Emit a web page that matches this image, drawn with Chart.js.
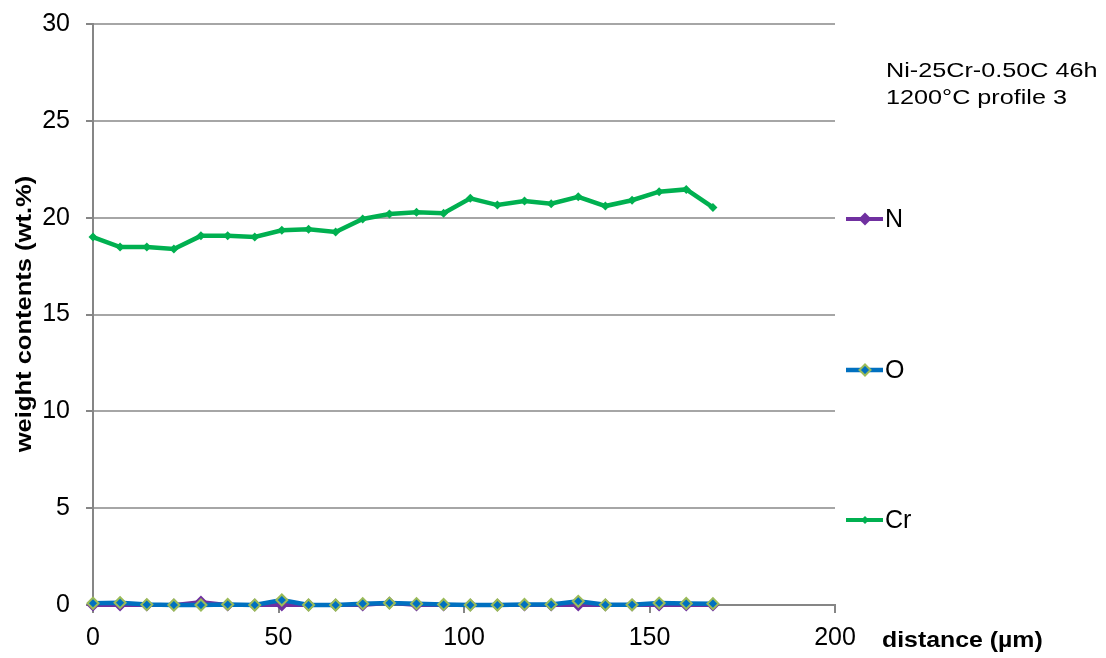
<!DOCTYPE html>
<html>
<head>
<meta charset="utf-8">
<script src="https://cdn.jsdelivr.net/npm/chart.js@4.4.1/dist/chart.umd.min.js"></script>
<style>
  html, body { margin: 0; padding: 0; background: #fff; }
  #wrap { width: 1106px; height: 658px; position: relative; }
</style>
</head>
<body>
<div id="wrap"><canvas id="c" width="1106" height="658"></canvas></div>
<script>
// ---- data ----
const distance = [0, 7.3, 14.5, 21.8, 29.1, 36.3, 43.6, 50.9, 58.1, 65.4, 72.7, 79.9,
                  87.2, 94.5, 101.7, 109.0, 116.3, 123.5, 130.8, 138.1, 145.3, 152.6, 159.9, 167.1];
const nValues  = [0, 0, 0, 0, 0.15, 0, 0, 0, 0, 0, 0, 0.1,
                  0, 0, 0, 0, 0, 0, 0, 0, 0, 0, 0, 0];
const oValues  = [0.09, 0.12, 0.02, 0, 0, 0.03, 0, 0.26, 0, 0, 0.07, 0.1,
                  0.07, 0.03, 0, 0, 0.03, 0.03, 0.19, 0.01, 0.01, 0.1, 0.08, 0.07];
const crValues = [19.0, 18.48, 18.48, 18.38, 19.06, 19.06, 19.0, 19.35, 19.4, 19.26, 19.93, 20.19,
                  20.28, 20.23, 21.0, 20.65, 20.86, 20.72, 21.08, 20.6, 20.9, 21.34, 21.46, 20.53];
const seriesNames = ['N', 'O', 'Cr'];
const xTicks = [0, 50, 100, 150, 200];
const yTicks = [0, 5, 10, 15, 20, 25, 30];
const titleLines = ['Ni-25Cr-0.50C 46h', '1200°C profile 3'];
const xTitle = 'distance (µm)';
const yTitle = 'weight contents (wt.%)';

const toPts = (vals) => vals.map((v, i) => ({ x: distance[i], y: v }));

const PURPLE = '#7030A0', BLUE = '#0070C0', OBORDER = '#9BBB59', GREEN = '#00B050';
const FONT = "'Liberation Sans', Arial, sans-serif";

function diamond(ctx, x, y, r, fill, stroke, lw) {
  ctx.beginPath();
  ctx.moveTo(x, y - r); ctx.lineTo(x + r, y); ctx.lineTo(x, y + r); ctx.lineTo(x - r, y);
  ctx.closePath();
  ctx.fillStyle = fill; ctx.fill();
  if (stroke) { ctx.lineWidth = lw; ctx.strokeStyle = stroke; ctx.stroke(); }
}

const decor = {
  id: 'decor',
  afterDraw(chart) {
    const ctx = chart.ctx;
    ctx.save();
    // annotation title
    ctx.fillStyle = '#000';
    ctx.textBaseline = 'alphabetic';
    ctx.textAlign = 'left';
    ctx.font = '21px ' + FONT;
    [[titleLines[0], 77], [titleLines[1], 104]].forEach(([t, yb]) => {
      ctx.save(); ctx.translate(886, yb); ctx.scale(1.2, 1); ctx.fillText(t, 0, 0); ctx.restore();
    });
    // x axis title
    ctx.font = 'bold 22px ' + FONT;
    ctx.textBaseline = 'middle';
    ctx.save(); ctx.translate(882, 641); ctx.scale(1.13, 1); ctx.fillText(xTitle, 0, 0); ctx.restore();
    // y axis title
    ctx.save(); ctx.translate(25, 314); ctx.rotate(-Math.PI / 2); ctx.scale(1.16, 1);
    ctx.textAlign = 'center'; ctx.fillText(yTitle, 0, 0); ctx.restore();
    // legend
    const items = [
      { name: seriesNames[0], y: 219, color: PURPLE, lw: 4, r: 6.5, fill: PURPLE, stroke: null },
      { name: seriesNames[1], y: 370, color: BLUE, lw: 4.5, r: 5.5, fill: BLUE, stroke: OBORDER },
      { name: seriesNames[2], y: 520, color: GREEN, lw: 4, r: 4, fill: GREEN, stroke: null }
    ];
    items.forEach(it => {
      ctx.beginPath(); ctx.moveTo(846, it.y); ctx.lineTo(883, it.y);
      ctx.lineWidth = it.lw; ctx.strokeStyle = it.color; ctx.stroke();
      diamond(ctx, 865, it.y, it.r, it.fill, it.stroke, 2);
      ctx.fillStyle = '#000'; ctx.font = '25px ' + FONT; ctx.textAlign = 'left'; ctx.textBaseline = 'middle';
      ctx.fillText(it.name, 885, it.y + 1);
    });
    ctx.restore();
  }
};

new Chart(document.getElementById('c'), {
  type: 'line',
  data: {
    datasets: [
      { label: seriesNames[0], data: toPts(nValues), borderColor: PURPLE, backgroundColor: PURPLE,
        borderWidth: 4, pointStyle: 'rectRot', pointRadius: 6.5, pointBorderWidth: 0,
        pointBackgroundColor: PURPLE, clip: false, order: 2, tension: 0 },
      { label: seriesNames[1], data: toPts(oValues), borderColor: BLUE, backgroundColor: BLUE,
        borderWidth: 4.5, pointStyle: 'rectRot', pointRadius: 5.5, pointBorderWidth: 2,
        pointBorderColor: OBORDER, pointBackgroundColor: BLUE, clip: false, order: 1, tension: 0 },
      { label: seriesNames[2], data: toPts(crValues), borderColor: GREEN, backgroundColor: GREEN,
        borderWidth: 4.5, pointStyle: 'rectRot', pointRadius: 4.5, pointBorderWidth: 0,
        pointBackgroundColor: GREEN, clip: false, order: 0, tension: 0 }
    ]
  },
  options: {
    responsive: false,
    animation: false,
    events: [],
    layout: { padding: { left: 0, top: 24, right: 271, bottom: 0 } },
    plugins: { legend: { display: false }, tooltip: { enabled: false }, title: { display: false } },
    scales: {
      x: {
        type: 'linear', min: 0, max: 200,
        afterBuildTicks: (s) => { s.ticks = xTicks.map(v => ({ value: v })); },
        afterFit: (s) => { s.height = 53; s.paddingLeft = 0; s.paddingRight = 0; },
        ticks: { color: '#000', font: { family: FONT, size: 25 }, padding: 10, maxRotation: 0, autoSkip: false },
        grid: { drawOnChartArea: false, drawTicks: true, tickLength: 8, tickColor: '#868686', lineWidth: 2 },
        border: { color: '#868686', width: 2 }
      },
      y: {
        type: 'linear', min: 0, max: 30,
        afterBuildTicks: (s) => { s.ticks = yTicks.map(v => ({ value: v })); },
        afterFit: (s) => { s.width = 93; s.paddingTop = 0; s.paddingBottom = 0; },
        ticks: { color: '#000', font: { family: FONT, size: 25 }, padding: 16 },
        grid: { color: '#A6A6A6', lineWidth: 2, tickLength: 7, tickColor: '#868686' },
        border: { color: '#868686', width: 2 }
      }
    }
  },
  plugins: [decor]
});
</script>
</body>
</html>
